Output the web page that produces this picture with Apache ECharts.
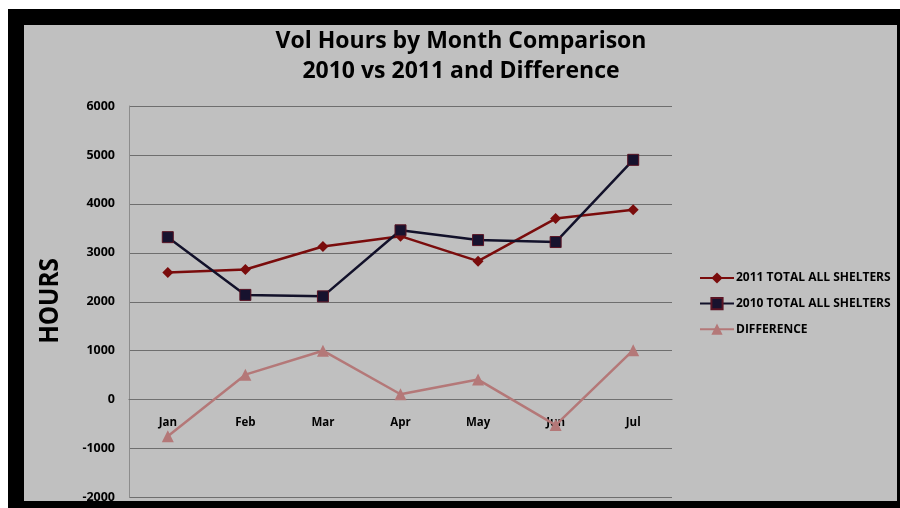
<!DOCTYPE html>
<html>
<head>
<meta charset="utf-8">
<script src="https://cdn.jsdelivr.net/npm/echarts@6/dist/echarts.min.js"></script>
<style>
html,body{margin:0;padding:0;background:#fff;}
#chart{width:900px;height:508px;}
</style>
</head>
<body>
<div id="chart"></div>
<script>
var months = ['Jan', 'Feb', 'Mar', 'Apr', 'May', 'Jun', 'Jul'];
var total2011 = [2600, 2660, 3130, 3340, 2830, 3700, 3880];
var total2010 = [3320, 2140, 2110, 3460, 3260, 3220, 4900];
var difference = [-750, 510, 1000, 110, 410, -520, 1010];
var seriesNames = ['2011 TOTAL ALL SHELTERS', '2010 TOTAL ALL SHELTERS', 'DIFFERENCE'];
var titleLines = ['Vol Hours by Month Comparison', '2010 vs 2011 and Difference'];
var yAxisTitle = 'HOURS';

var FONT = '"Open Sans", "Liberation Sans", sans-serif';
var chart = echarts.init(document.getElementById('chart'), null, {renderer: 'canvas'});

var GRID_TOP = 106, GRID_BOTTOM = 10.5, Y_MIN = -2000, Y_MAX = 6000;
var plotH = 508 - GRID_TOP - GRID_BOTTOM;
var zeroOffset = -plotH * (0 - Y_MIN) / (Y_MAX - Y_MIN);

var option = {
  backgroundColor: '#c0c0c0',
  animation: false,
  textStyle: {fontFamily: FONT},
  grid: {left: 129, right: 228, top: GRID_TOP, bottom: GRID_BOTTOM, containLabel: false, outerBoundsMode: 'none'},
  graphic: [
    {type: 'rect', shape: {x: 0, y: 0, width: 900, height: 9}, style: {fill: '#ffffff'}, silent: true},
    {type: 'rect', shape: {x: 0, y: 0, width: 8, height: 508}, style: {fill: '#ffffff'}, silent: true},
    {type: 'rect', shape: {x: 8, y: 9, width: 892, height: 16}, style: {fill: '#000000'}, silent: true},
    {type: 'rect', shape: {x: 8, y: 9, width: 16, height: 499}, style: {fill: '#000000'}, silent: true},
    {type: 'rect', shape: {x: 897, y: 9, width: 3, height: 499}, style: {fill: '#000000'}, silent: true},
    {type: 'rect', shape: {x: 8, y: 501, width: 892, height: 7}, style: {fill: '#000000'}, silent: true},
    {type: 'text', x: 461, y: 41, style: {text: titleLines[0], fill: '#000', font: 'bold 23px ' + FONT, textAlign: 'center', textVerticalAlign: 'middle'}},
    {type: 'text', x: 461, y: 71, style: {text: titleLines[1], fill: '#000', font: 'bold 23px ' + FONT, textAlign: 'center', textVerticalAlign: 'middle'}},
    {type: 'text', x: 50, y: 301, rotation: Math.PI / 2, scaleX: 0.9,
     style: {text: yAxisTitle, fill: '#000', font: 'bold 27px ' + FONT, textAlign: 'center', textVerticalAlign: 'middle'}}
  ],
  legend: {
    orient: 'vertical',
    left: 694,
    top: 267,
    itemWidth: 34,
    itemHeight: 14,
    itemGap: 13,
    data: seriesNames,
    textStyle: {fontFamily: FONT, fontWeight: 'bold', fontSize: 12, color: '#000', padding: [0, 0, 0, -3]}
  },
  xAxis: {
    type: 'category',
    data: months,
    boundaryGap: true,
    offset: zeroOffset,
    axisLine: {show: true, onZero: false, lineStyle: {color: '#707070', width: 1.2}},
    axisTick: {show: false},
    axisLabel: {fontFamily: FONT, fontWeight: 'bold', fontSize: 11.5, color: '#000', margin: 17}
  },
  yAxis: {
    type: 'value',
    min: Y_MIN,
    max: Y_MAX,
    interval: 1000,
    axisLine: {show: true, lineStyle: {color: '#8c8c8c', width: 1}},
    axisTick: {show: false},
    axisLabel: {fontFamily: FONT, fontWeight: 'bold', fontSize: 12.5, color: '#000', margin: 14,
      formatter: function (v) { return String(v); }},
    splitLine: {show: true, lineStyle: {color: '#6e6e6e', width: 1.2}}
  },
  series: [
    {
      name: seriesNames[0],
      type: 'line',
      data: total2011,
      symbol: 'diamond',
      symbolSize: 11,
      lineStyle: {color: '#7a0c0c', width: 2.5},
      itemStyle: {color: '#7a0c0c'}
    },
    {
      name: seriesNames[1],
      type: 'line',
      data: total2010,
      symbol: 'rect',
      symbolSize: 11,
      lineStyle: {color: '#12112a', width: 2.5},
      itemStyle: {color: '#17122e', borderColor: '#5a1424', borderWidth: 1}
    },
    {
      name: seriesNames[2],
      type: 'line',
      data: difference,
      symbol: 'triangle',
      symbolSize: 12,
      lineStyle: {color: '#b47878', width: 2.5},
      itemStyle: {color: '#b47878'}
    }
  ]
};
chart.setOption(option);
</script>
</body>
</html>
